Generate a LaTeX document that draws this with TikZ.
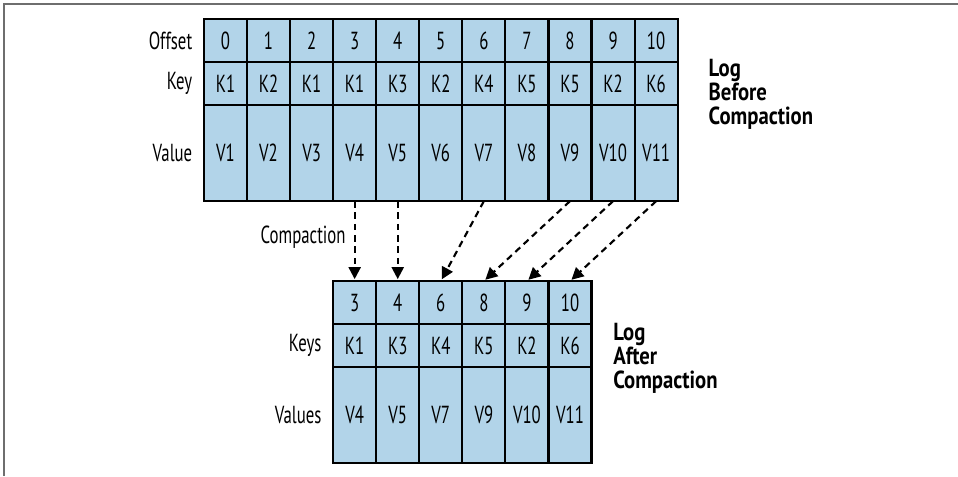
\documentclass[tikz,border=0pt]{standalone}
\usepackage{fontspec}
\setmainfont{PT Sans}[FakeStretch=0.68, BoldFeatures={FakeStretch=0.84}]
\usetikzlibrary{positioning,arrows.meta}
\definecolor{cellblue}{RGB}{178,212,233}
\definecolor{framegray}{RGB}{110,110,110}

\begin{document}
\begin{tikzpicture}[node distance={32.3pt}, line width=1.6pt,
    cell/.style = {draw, fill=cellblue, minimum width=32.3pt, minimum height=32.3pt, outer sep=0pt, inner sep=0pt, font=\fontsize{18.5}{20}\selectfont},
    valcell/.style = {cell, minimum height=72pt},
    rowlbl/.style = {inner sep=0pt, font=\fontsize{18.5}{20}\selectfont},
    title/.style = {inner sep=0pt, align=left, font=\fontsize{18.5}{18.2}\selectfont\bfseries},
    compact/.style = {dash pattern=on 5pt off 3.5pt, shorten >=1.5pt, -{Triangle[width=9pt,length=9pt]}}]
    \useasboundingbox (0,0) rectangle (718.5pt,-357pt);
    \draw[framegray, line width=1.1pt] (3pt,-357pt) -- (3pt,-3pt) -- (718.5pt,-3pt);

    % log before compaction
    \node[cell] (off0) at (169.1pt,-30.4pt) {0};
    \node[cell] (key0) [below of=off0] {K1};
    \node[valcell] (val0) [below=0pt of key0] {V1};
    \node[cell] (off1) [right of=off0] {1};
    \node[cell] (key1) [right of=key0] {K2};
    \node[valcell] (val1) [right of=val0] {V2};
    \node[cell] (off2) [right of=off1] {2};
    \node[cell] (key2) [right of=key1] {K1};
    \node[valcell] (val2) [right of=val1] {V3};
    \node[cell] (off3) [right of=off2] {3};
    \node[cell] (key3) [right of=key2] {K1};
    \node[valcell] (val3) [right of=val2] {V4};
    \node[cell] (off4) [right of=off3] {4};
    \node[cell] (key4) [right of=key3] {K3};
    \node[valcell] (val4) [right of=val3] {V5};
    \node[cell] (off5) [right of=off4] {5};
    \node[cell] (key5) [right of=key4] {K2};
    \node[valcell] (val5) [right of=val4] {V6};
    \node[cell] (off6) [right of=off5] {6};
    \node[cell] (key6) [right of=key5] {K4};
    \node[valcell] (val6) [right of=val5] {V7};
    \node[cell] (off7) [right of=off6] {7};
    \node[cell] (key7) [right of=key6] {K5};
    \node[valcell] (val7) [right of=val6] {V8};
    \node[cell] (off8) [right of=off7] {8};
    \node[cell] (key8) [right of=key7] {K5};
    \node[valcell] (val8) [right of=val7] {V9};
    \node[cell] (off9) [right of=off8] {9};
    \node[cell] (key9) [right of=key8] {K2};
    \node[valcell] (val9) [right of=val8] {V10};
    \node[cell] (off10) [right of=off9] {10};
    \node[cell] (key10) [right of=key9] {K6};
    \node[valcell] (val10) [right of=val9] {V11};

    \node[rowlbl] (offlbl) [left=8pt of off0] {Offset};
    \node[rowlbl] (keylbl) [left=8pt of key0] {Key};
    \node[rowlbl] (vallbl) [left=8pt of val0] {Value};
    \node[title] (before) [right=22.5pt of key10, yshift=-8pt] {Log\\Before\\Compaction};

    % log after compaction
    \node[cell] (coff0) [below=60pt of val3] {3};
    \node[cell] (ckey0) [below of=coff0] {K1};
    \node[valcell] (cval0) [below=0pt of ckey0] {V4};
    \node[cell] (coff1) [right of=coff0] {4};
    \node[cell] (ckey1) [right of=ckey0] {K3};
    \node[valcell] (cval1) [right of=cval0] {V5};
    \node[cell] (coff2) [right of=coff1] {6};
    \node[cell] (ckey2) [right of=ckey1] {K4};
    \node[valcell] (cval2) [right of=cval1] {V7};
    \node[cell] (coff3) [right of=coff2] {8};
    \node[cell] (ckey3) [right of=ckey2] {K5};
    \node[valcell] (cval3) [right of=cval2] {V9};
    \node[cell] (coff4) [right of=coff3] {9};
    \node[cell] (ckey4) [right of=ckey3] {K2};
    \node[valcell] (cval4) [right of=cval3] {V10};
    \node[cell] (coff5) [right of=coff4] {10};
    \node[cell] (ckey5) [right of=ckey4] {K6};
    \node[valcell] (cval5) [right of=cval4] {V11};

    \node[rowlbl] (ckeylbl) [left=8pt of ckey0] {Keys};
    \node[rowlbl] (cvallbl) [left=8pt of cval0] {Values};
    \node[title] (after) [right=15.5pt of ckey5, yshift=-9.5pt] {Log\\After\\Compaction};

    \draw[compact] (val3.south) -- node[rowlbl, left=6pt, yshift=3pt] (complbl) {Compaction} (coff0.north);
    \draw[compact] (val4.south) -- (coff1.north);
    \draw[compact] (val6.south) -- (coff2.north);
    \draw[compact] (val8.south) -- (coff3.north);
    \draw[compact] (val9.south) -- (coff4.north);
    \draw[compact] (val10.south) -- (coff5.north);
\end{tikzpicture}
\end{document}
